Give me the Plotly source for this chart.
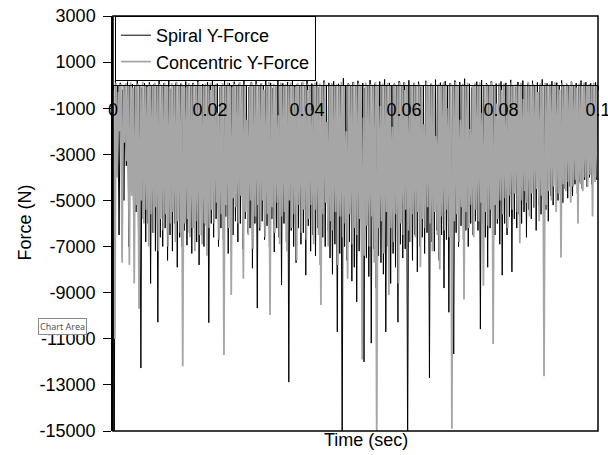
import numpy as np
import plotly.graph_objects as go

# ---------------- data ----------------
# sampling step of the force records (s)
sample_step = 0.0005

# Spiral Y-Force: troughs (N), one per sample step
spiral_lows = [
    -16000, -3000, -6500, -2500, -5000, -3500, -7000, -4500, -6000, -5500,
    -6200, -12270, -5800, -6800, -6000, -8600, -6400, -7200, -10280, -6600,
    -7000, -6200, -7600, -6500, -7200, -6000, -7900, -6600, -7000, -6300,
    -6940, -6400, -7300, -6200, -6800, -7800, -6500, -7000, -6100, -10300,
    -6000, -6600, -5800, -7000, -6200, -6700, -5700, -7300, -6000, -6500,
    -5900, -6800, -6000, -7100, -5800, -6400, -6200, -7940, -6000, -9670,
    -6300, -5900, -6700, -6100, -7000, -5800, -7240, -6200, -6600, -8670,
    -6000, -6800, -12880, -6300, -7000, -7700, -6200, -6900, -6400, -8240,
    -6100, -7200, -6500, -7400, -6200, -7800, -6600, -7000, -6300, -7500,
    -8200, -6900, -10700, -7300, -16000, -7000, -7600, -6800, -8500, -7900,
    -9400, -7200, -8000, -12000, -7500, -8300, -11190, -7100, -8800, -7400,
    -7700, -8200, -10700, -7000, -8600, -7300, -7900, -10280, -6900, -7500,
    -7100, -16000, -6800, -7600, -6500, -8100, -7000, -6600, -7300, -6400,
    -12700, -6800, -7200, -6300, -7600, -6500, -8800, -6700, -9850, -6600,
    -11660, -6400, -7000, -6100, -6700, -6300, -7000, -6000, -6500, -5900,
    -6300, -10580, -6000, -6600, -7900, -6200, -5800, -6500, -6000, -6900,
    -8240, -6000, -6500, -5700, -8100, -5800, -6200, -5600, -6000, -5500,
    -6600, -5400, -5800, -5300, -6300, -5200, -5600, -5000, -5400, -5900,
    -4800, -5200, -4600, -5000, -4700, -5100, -4500, -4900, -4400, -4800,
    -4300, -4700, -4200, -4500, -4100, -4400, -4000, -4300, -3900, -4100,
]
# Spiral Y-Force: crests (N)
spiral_highs = [
    0, 200, 0, 100, -200, 0, 150, 0, 50, 0, 250, 0, -100, 80, 0, 120, 0, 60, 0, 180,
    0, 90, 0, 200, -150, 0, 110, 0, 70, 0, 160, 0, -60, 100, 0, 220, 0, 50, 0, 130,
    0, 180, 0, 70, -100, 0, 240, 0, 90, 0, 150, 0, 60, 0, 200, 0, -80, 120, 0, 170,
    0, 60, 0, 210, 0, 100, -120, 0, 190, 0, 80, 0, 140, 0, 260, 0, 50, 0, 110, 0,
    230, 0, 70, 0, 150, -90, 0, 200, 0, 100, 0, 170, 0, 60, 0, 300, 0, 80, 0, 140,
    0, 190, 0, 90, -110, 0, 220, 0, 60, 0, 160, 0, 250, 0, 100, 0, 70, 0, 180, 0,
    120, 0, 210, 0, 80, 0, 150, -70, 0, 190, 0, 60, 0, 240, 0, 110, 0, 170, 0, 90,
    0, 200, 0, 130, 0, 280, 0, 60, -100, 0, 150, 0, 220, 0, 90, 0, 180, 0, 70, 0,
    160, 0, 100, 0, 230, 0, -80, 140, 0, 200, 0, 70, 0, 190, 0, 120, 0, 250, 0, 80,
    0, 170, 0, 110, 0, 210, 0, 60, 0, 150, 0, 90, 0, 200, 0, 130, 0, 80, 0, 120, 0,
]

# Concentric Y-Force: troughs (N)
concentric_lows = [
    -11000, -4000, -2000, -7700, -2500, -3300, -7800, -4800, -8600, -5200,
    -9700, -5000, -6000, -5400, -7000, -5600, -6400, -5300, -7200, -5800,
    -6300, -5600, -7000, -6000, -5500, -6800, -5900, -6400, -12190, -6000,
    -5800, -6600, -6200, -7200, -5900, -6500, -6900, -6000, -7400, -6200,
    -5400, -6000, -5100, -6700, -5600, -11700, -5200, -6200, -9100, -4900,
    -5300, -6000, -4800, -8400, -5500, -6500, -5000, -7100, -5700, -5200,
    -6200, -5000, -6600, -5600, -9970, -5300, -6400, -5100, -6900, -5700,
    -5500, -7200, -5000, -6200, -5600, -7600, -5200, -6400, -5400, -6700,
    -5800, -5200, -6900, -5400, -6500, -9540, -5600, -5100, -7000, -5900,
    -6300, -5500, -7800, -5700, -6600, -6000, -8400, -5600, -6900, -6200,
    -6500, -5800, -11900, -7400, -6100, -7000, -5700, -7700, -15500, -6200,
    -5900, -7300, -5500, -9100, -6200, -6800, -5600, -8600, -6000, -6500,
    -5400, -6300, -6800, -5600, -6600, -5500, -7900, -5800, -6200, -5300,
    -6000, -7200, -5500, -6500, -8000, -5700, -6300, -5400, -6600, -14900,
    -5900, -5600, -6800, -5300, -9300, -5500, -6200, -5200, -6600, -5400,
    -5900, -5100, -8700, -5500, -6100, -5400, -11230, -5200, -5800, -5000,
    -5600, -4900, -6200, -4800, -5400, -4700, -5500, -6860, -5000, -4600,
    -5100, -5700, -4700, -5300, -4500, -5900, -4800, -12620, -5200, -4600,
    -5000, -4400, -5500, -4700, -7480, -4300, -4600, -4200, -5100, -4400,
    -4100, -6000, -4300, -4600, -4000, -4400, -3900, -5700, -4200, -4000,
]
# Concentric Y-Force: crests (N)
concentric_highs = [
    0, 100, -300, 50, 0, 80, 0, 120, -100, 0, 60, 0, 150, 0, -80, 40, 0, 100, 0, 50,
    0, 120, 0, -60, 80, 0, 150, 0, 40, 0, -100, 90, 0, 60, 0, 130, 0, -50, 70, 0,
    100, 0, 50, -1200, 0, 80, 0, 120, 0, -90, 60, 0, 140, 0, 30, -1500, 0, 110, 0, 50,
    0, 90, -200, 0, 150, 0, 60, 0, -1300, 100, 0, 40, 0, 120, 0, -70, 80, 0, 160, 0,
    50, 0, -1100, 100, 0, 70, 0, 130, -1600, 0, 90, 0, 40, 0, 150, 0, -2000, 60, 0, 110,
    0, 80, 0, -1400, 120, 0, 50, 0, 140, 0, -900, 70, 0, 100, 0, -1800, 60, 0, 130, 0,
    90, 0, -1200, 0, 110, 0, 60, 0, -1700, 150, 0, 80, 0, -2200, 40, 0, 120, 0, -1000, 70,
    0, 140, 0, -1500, 60, 0, 100, -1900, 0, 80, 0, 130, -1200, 0, 50, 0, 160, 0, -800, 90,
    0, 70, -1300, 0, 120, 0, 40, 0, 100, -600, 0, 150, 0, 60, 0, -300, 80, 0, 110, 0,
    50, 0, 130, 0, -200, 90, 0, 60, 0, 140, 0, -100, 70, 0, 120, 0, 40, 0, 100, 0,
]

series_names = ["Spiral Y-Force", "Concentric Y-Force"]
y_tick_values = [3000, 1000, -1000, -3000, -5000, -7000, -9000, -11000, -13000, -15000]
y_tick_labels = ["3000", "1000", "-1000", "-3000", "-5000", "-7000", "-9000",
                 "-11000", "-13000", "-15000"]
x_tick_values = [0, 0.02, 0.04, 0.06, 0.08, 0.1]
x_tick_labels = ["0", "0.02", "0.04", "0.06", "0.08", "0.1"]


def build_record(lows, highs, start):
    """Interleave crest and trough samples into a single time record."""
    t, f = [], []
    for k, low in enumerate(lows):
        t.append(start + k * sample_step)
        f.append(highs[k])
        t.append(start + k * sample_step + sample_step / 2)
        f.append(low)
    if len(highs) > len(lows):
        t.append(start + len(lows) * sample_step)
        f.append(highs[len(lows)])
    return np.array(t), np.array(f)


t_sp, f_sp = build_record(spiral_lows, spiral_highs, 0.0)
t_cc, f_cc = build_record(concentric_lows, concentric_highs, sample_step / 4)

FONT = "Liberation Sans, Arial, sans-serif"

fig = go.Figure()
fig.add_trace(go.Scatter(x=t_sp, y=f_sp, mode="lines", name=series_names[0],
                         legendgroup="a",
                         line=dict(color="#000000", width=1)))
fig.add_trace(go.Scatter(x=t_cc, y=f_cc, mode="lines", name=series_names[1],
                         legendgroup="b",
                         line=dict(color="#A6A6A6", width=1.8)))

fig.update_layout(
    width=608, height=455,
    margin=dict(l=113, r=10, t=16, b=24, autoexpand=False),
    paper_bgcolor="white", plot_bgcolor="white",
    font=dict(family=FONT, size=18, color="#000000"),
    showlegend=True,
    legend=dict(x=0.004, y=1.0, xanchor="left", yanchor="top",
                bgcolor="white", bordercolor="#000000", borderwidth=1,
                font=dict(family=FONT, size=18, color="#000000"),
                traceorder="grouped", tracegroupgap=0),
    xaxis=dict(range=[0, 0.1], tickvals=x_tick_values, ticktext=x_tick_labels,
               anchor="free", position=15000 / 18000, automargin=False,
               showline=True, linecolor="#000000", linewidth=1,
               ticks="outside", ticklen=4, tickcolor="#000000",
               ticklabelstandoff=4, ticklabeloverflow="allow",
               showgrid=False, zeroline=False,
               tickfont=dict(family=FONT, size=18, color="#000000")),
    yaxis=dict(range=[-15000, 3000], tickvals=y_tick_values, ticktext=y_tick_labels,
               automargin=False,
               showline=True, linecolor="#000000", linewidth=1.5,
               ticks="outside", ticklen=8, tickcolor="#000000",
               ticklabelstandoff=4,
               showgrid=False, zeroline=False,
               tickfont=dict(family=FONT, size=18, color="#000000")),
    shapes=[dict(type="rect", xref="paper", yref="paper", x0=0, x1=1, y0=0, y1=1,
                 line=dict(color="#000000", width=1.5), layer="above")],
    annotations=[
        dict(text="Time (sec)", xref="paper", yref="paper", x=0.5216, y=-0.022,
             xanchor="center", yanchor="middle", showarrow=False,
             font=dict(family=FONT, size=18, color="#000000")),
        dict(text="Force (N)", xref="paper", yref="paper", x=-0.181, y=0.503,
             textangle=-90, xanchor="center", yanchor="middle", showarrow=False,
             font=dict(family=FONT, size=18, color="#000000")),
        dict(text="Chart Area", xref="paper", yref="paper", x=-0.105, y=0.253,
             xanchor="center", yanchor="middle", showarrow=False,
             bgcolor="white", bordercolor="#8a8a8a", borderwidth=1, borderpad=1,
             font=dict(family="Noto Sans, sans-serif", size=9, color="#555555")),
    ],
)

fig.write_html("out.html")
